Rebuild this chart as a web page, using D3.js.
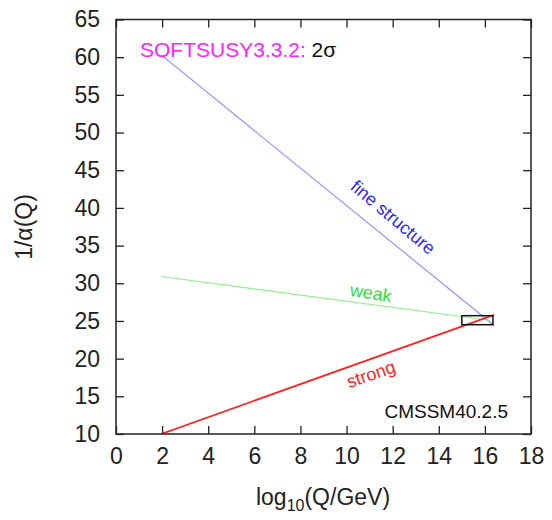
<!DOCTYPE html>
<html><head><meta charset="utf-8">
<script src="https://cdn.jsdelivr.net/npm/d3@7"></script>
<style>body{margin:0;background:#fff}svg{display:block}text{font-family:"Liberation Sans",Arial,sans-serif}</style>
</head><body>
<svg id="c" width="552" height="520"></svg>
<script>
// data
const xTicks = [0,2,4,6,8,10,12,14,16,18];
const yTicks = [10,15,20,25,30,35,40,45,50,55,60,65];
const seriesNames = ["fine structure","weak","strong"];
const fineLogQ = [1.96, 16.4];
const fineInvAlpha = [60.3, 24.4];
const weakLogQ = [1.96, 16.2];
const weakInvAlpha = [30.9, 25.1];
const strongLogQ = [1.96, 16.4];
const strongInvAlpha = [10.0, 25.8];
const boxLogQ = [15.0, 16.35];
const boxInvAlpha = [24.5, 25.7];

const svg = d3.select("#c");
const L=116, R=531, T=19.5, B=434;
const x = d3.scaleLinear().domain([0,18]).range([L,R]);
const y = d3.scaleLinear().domain([10,65]).range([B,T]);

svg.append("clipPath").attr("id","pc").append("rect")
  .attr("x",L).attr("y",T).attr("width",R-L).attr("height",B-T);

const g = svg.append("g").attr("clip-path","url(#pc)");
const line = d3.line().x(d=>x(d[0])).y(d=>y(d[1]));
const series = [
  {q:fineLogQ, a:fineInvAlpha, c:"#8a8aff", w:1.1},
  {q:weakLogQ, a:weakInvAlpha, c:"#8ef08e", w:1.1},
  {q:strongLogQ, a:strongInvAlpha, c:"#ff2020", w:1.8}
];
series.forEach(s=>{
  g.append("path").attr("d", line(s.q.map((q,i)=>[q,s.a[i]])))
   .attr("fill","none").attr("stroke",s.c).attr("stroke-width",s.w);
});
g.append("rect").attr("x",x(boxLogQ[0])).attr("y",y(boxInvAlpha[1]))
  .attr("width",x(boxLogQ[1])-x(boxLogQ[0])).attr("height",y(boxInvAlpha[0])-y(boxInvAlpha[1]))
  .attr("fill","none").attr("stroke","#111").attr("stroke-width",1.5);

// axes with inward ticks
const fmt = d3.format("d");
const ax = [
  svg.append("g").attr("transform",`translate(0,${B})`).call(d3.axisBottom(x).tickValues(xTicks).tickSize(-8).tickPadding(14).tickFormat(fmt)),
  svg.append("g").attr("transform",`translate(0,${T})`).call(d3.axisTop(x).tickValues(xTicks).tickSize(-8).tickFormat("")),
  svg.append("g").attr("transform",`translate(${L},0)`).call(d3.axisLeft(y).tickValues(yTicks).tickSize(-8).tickPadding(16).tickFormat(fmt)),
  svg.append("g").attr("transform",`translate(${R},0)`).call(d3.axisRight(y).tickValues(yTicks).tickSize(-8).tickFormat(""))
];
ax.forEach(a=>{
  a.select(".domain").remove();
  a.selectAll(".tick line").attr("stroke","#222").attr("stroke-width",1.3);
  a.selectAll(".tick text").attr("font-size",23).attr("fill","#222").attr("font-family","Liberation Sans, Arial, sans-serif");
});
svg.append("rect").attr("x",L).attr("y",T).attr("width",R-L).attr("height",B-T)
  .attr("fill","none").attr("stroke","#222").attr("stroke-width",1.5);

// axis labels
const xl = svg.append("text").attr("x",323).attr("y",505).attr("text-anchor","middle")
  .attr("font-size",23).attr("fill","#222");
xl.append("tspan").text("log");
xl.append("tspan").attr("font-size",16).attr("dy",6).text("10");
xl.append("tspan").attr("dy",-6).text("(Q/GeV)");

svg.append("text").attr("transform","translate(32,227) rotate(-90)").attr("text-anchor","middle")
  .attr("font-size",23).attr("fill","#222").text("1/α(Q)");

// annotations
const t = svg.append("text").attr("x",140).attr("y",57).attr("font-size",21);
t.append("tspan").attr("fill","#ff22ff").text("SOFTSUSY3.3.2: ");
t.append("tspan").attr("fill","#111").text("2σ");

svg.append("text").attr("x",508).attr("y",418).attr("text-anchor","end")
  .attr("font-size",19).attr("fill","#111").text("CMSSM40.2.5");

svg.append("text").attr("transform","translate(389,222) rotate(40)").attr("text-anchor","middle")
  .attr("font-size",18).attr("fill","#2a2aee").text(seriesNames[0]);
svg.append("text").attr("transform","translate(370,299) rotate(9)").attr("text-anchor","middle")
  .attr("font-size",18).attr("fill","#33dd33").text(seriesNames[1]);
svg.append("text").attr("transform","translate(373,380) rotate(-19)").attr("text-anchor","middle")
  .attr("font-size",18).attr("fill","#ff2020").text(seriesNames[2]);
</script>
</body></html>
